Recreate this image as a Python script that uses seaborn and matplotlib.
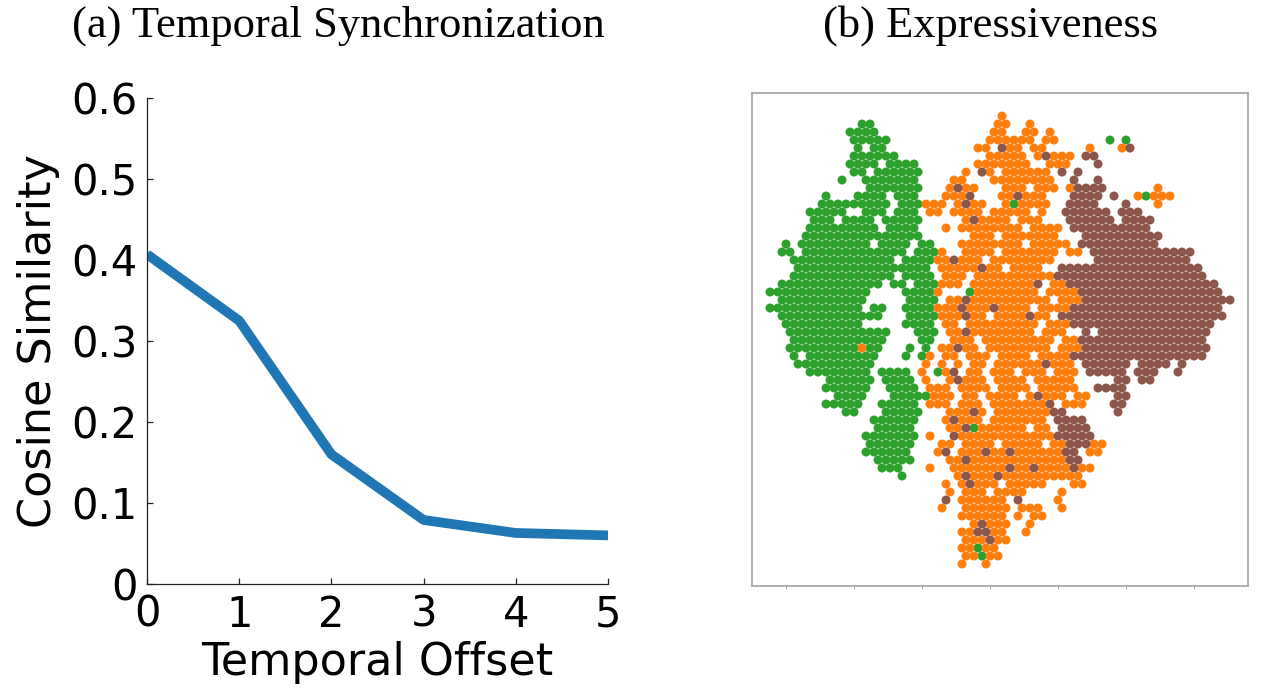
import matplotlib
matplotlib.use("Agg")
import matplotlib.pyplot as plt
import numpy as np
import pandas as pd
import seaborn as sns

# (a) Temporal Synchronization: cosine similarity vs. temporal offset
offsets = [0, 1, 2, 3, 4, 5]
similarity = [0.407, 0.325, 0.160, 0.079, 0.063, 0.060]
y_ticks = [0, 0.1, 0.2, 0.3, 0.4, 0.5, 0.6]
y_tick_labels = ["0", "0.1", "0.2", "0.3", "0.4", "0.5", "0.6"]

# (b) Expressiveness: t-SNE map read off the picture as occupied cells of a
# fine grid, one string per grid row, "a-b" = run of cells, "a" = single cell
green_rows = [
    "", "11-12", "10-13", "10-14 42 44", "11 13-14", "10-15", "10-13 15-18",
    "10-11 13-18", "9 12-18", "12-18", "7 11-14 16-18 47", "6-14 16-18 30",
    "5-9 12-14 16-18", "5-7 9-12 14-18", "5-13 15-18", "4-18",
    "2 4-12 14-17 19-20", "1-2 4-16 18-20", "3-15 17-20", "3-19", "3-15 17-20",
    "1-13 15-16 18-20", "0-12 17-20 25", "1-11 17-20", "0-11 13-14 17-20",
    "1-13 17-20", "2-11 17-20", "2-14 18-20", "3-14 19-20", "2-10 12-13 17 19",
    "3 5-13 17 19", "3-12", "5-12 14-17 21", "7-12 14-17", "7-12 15-18",
    "8-11 15-19", "7-11 14-18", "9-10 14-18", "13-18", "13-17 25", "12-18",
    "12-17", "12-17", "13-17", "14-16", "16", "", "", "", "", "", "", "", "",
    "26", "26", "",
]
orange_rows = [
    "29", "28-29 32", "28-29 32-33 35", "27-32 34-35", "26-27 30-31 33-34 40 44",
    "27-31 33 35-37", "26-32 35-37", "24 27 29-34", "23-24 28-35",
    "22 24-25 29-31 33-35 37 48", "22-24 29-30 32-34 46 48-50",
    "19-21 23 25-26 29 31-34 48", "20-21 23-26 28-32 34", "24 26-29 31-33",
    "22 24-31 33-36", "25-27 29-35", "24-31 33-37", "21 24-27 29-35 37-38",
    "21-22 24-26 28-35", "21-25 27-28 30-33", "22-24 26-35",
    "21-23 25-32 35-36", "21 26-33 35-38", "22-23 25-34 36-38",
    "21-23 25-27 29-32 34-37", "21-23 25-26 28-31 33-34", "22-23 25-33 35-37",
    "22-23 25-32 34-36", "23-25 27-35 37-38", "11 21-22 24-25 27-34 36-38",
    "20 22-23 25-27 29-32 34-37", "19 21 23 25-26 28-33 35-37",
    "19 22 25-26 28-30 32-34 36-38", "19 22 24-26 28-31 33-37",
    "20-22 24-27 29-32 34-38", "20-22 24-25 27-30 32 34-36 38-39",
    "20-22 24-26 28-34 37-39", "22-24 26 28-34", "22 24-26 28-34",
    "22-23 26-31 33-34", "20 24-35", "21-22 24-27 29-33 35-36 40-41",
    "21 24-26 28-29 31-36 40-41", "22-36", "20 23-29 31-32 34-37 39-40",
    "23 25-27 29-38", "22 24 26-28 30-34 38-39", "22 24-26 28-31 36",
    "24-29 36", "21 24-29 31-33 36", "24-29 31 33-34", "25 27-29 32",
    "24-25 28-29 32", "24-26 28-29", "24-25 27-28", "24-25 27-28", "24 27",
]
brown_rows = [
    "", "", "", "", "29 45", "34 39-40", "41", "26 36 38", "38 41", "23 38-41",
    "25 31 38-41 43", "24 37-40 44", "37-42 44-46", "25 37-42 44-47", "38-47",
    "39-48", "39-48", "40-52", "23 41-52", "26 36-53", "36-54", "33 37-55",
    "39-56", "24 39-57", "24 28 38-56", "24 32 36-56", "38-55", "24 39 41-54",
    "39-54", "23 39-54", "38-54", "34 39-44 46-49 51", "23 40-44 46-48 51",
    "23 43-44 46-47", "41-44", "33 43-44", "35 43-44", "25 35-36 43",
    "23 36-39", "24 36-39", "23 36-40", "37-39", "22 27 30 37-38", "24 37-38",
    "30 33 38", "24 28", "25", "", "22 31", "", "", "26", "26-27", "27", "",
    "", "",
]
cluster_colors = {"green": "#2ca02c", "orange": "#ff7f0e", "brown": "#8c564b"}
tsne_ticks = [2, 10.5, 19, 27.5, 36, 44.5, 53]


def grid_cells(rows, label):
    cells = []
    for r, spec in enumerate(rows):
        for tok in spec.split():
            a, _, b = tok.partition("-")
            for c in range(int(a), int(b or a) + 1):
                # odd rows sit half a cell to the right (hex packing)
                cells.append((c + 0.5 * (r % 2), r, label))
    return cells


sns.set_style("white")
plt.rcParams["font.family"] = ["DejaVu Sans"]
plt.rcParams["text.color"] = "black"
plt.rcParams["axes.labelcolor"] = "black"

fig = plt.figure(figsize=(12.62, 6.89), dpi=100)

# ---- (a) line plot
ax1 = fig.add_axes([0.1165, 0.1524, 0.3653, 0.7054])
sns.lineplot(x=offsets, y=similarity, ax=ax1, color="#1f77b4", linewidth=7,
             solid_capstyle="butt", solid_joinstyle="round")
ax1.set_xlim(0, 5)
ax1.set_ylim(0, 0.6)
ax1.set_xticks(offsets)
ax1.set_yticks(y_ticks)
ax1.set_yticklabels(y_tick_labels)
for side in ["top", "right"]:
    ax1.spines[side].set_visible(False)
for side in ["left", "bottom"]:
    ax1.spines[side].set_color("#222222")
    ax1.spines[side].set_linewidth(0.9)
ax1.tick_params(bottom=True, left=True, direction="in", length=4.5, width=0.9,
                labelsize=30, pad=7, colors="#222222", labelcolor="black")
ax1.set_xlabel("Temporal Offset", fontsize=32, labelpad=4)
ax1.set_ylabel("Cosine Similarity", fontsize=32, labelpad=8)

# ---- (b) t-SNE scatter
df = pd.DataFrame(grid_cells(green_rows, "green") + grid_cells(orange_rows, "orange")
                  + grid_cells(brown_rows, "brown"), columns=["x", "y", "cluster"])
ax2 = fig.add_axes([0.5959, 0.1495, 0.3930, 0.7162])
sns.scatterplot(data=df, x="x", y="y", hue="cluster", palette=cluster_colors,
                s=42, linewidth=0, edgecolor="none", legend=False, ax=ax2)
ax2.set_xlim(-2.25, 59.75)
ax2.set_ylim(58.75, -2.94)
ax2.set_xticks(tsne_ticks)
ax2.set_xticklabels([])
ax2.set_yticks([])
ax2.set_xlabel("")
ax2.set_ylabel("")
for side in ax2.spines:
    ax2.spines[side].set_visible(True)
    ax2.spines[side].set_color("#a8a8a8")
    ax2.spines[side].set_linewidth(1.3)
ax2.tick_params(axis="x", bottom=True, direction="out", length=2.5, width=0.8,
                colors="#a8a8a8")

# ---- panel titles
fig.text(0.2682, 0.9477, "(a) Temporal Synchronization", ha="center", va="baseline",
         fontsize=32, color="black", family=["Liberation Serif", "DejaVu Serif"])
fig.text(0.7853, 0.9477, "(b) Expressiveness", ha="center", va="baseline",
         fontsize=32, color="black", family=["Liberation Serif", "DejaVu Serif"])

fig.savefig("out.png", dpi=100)
